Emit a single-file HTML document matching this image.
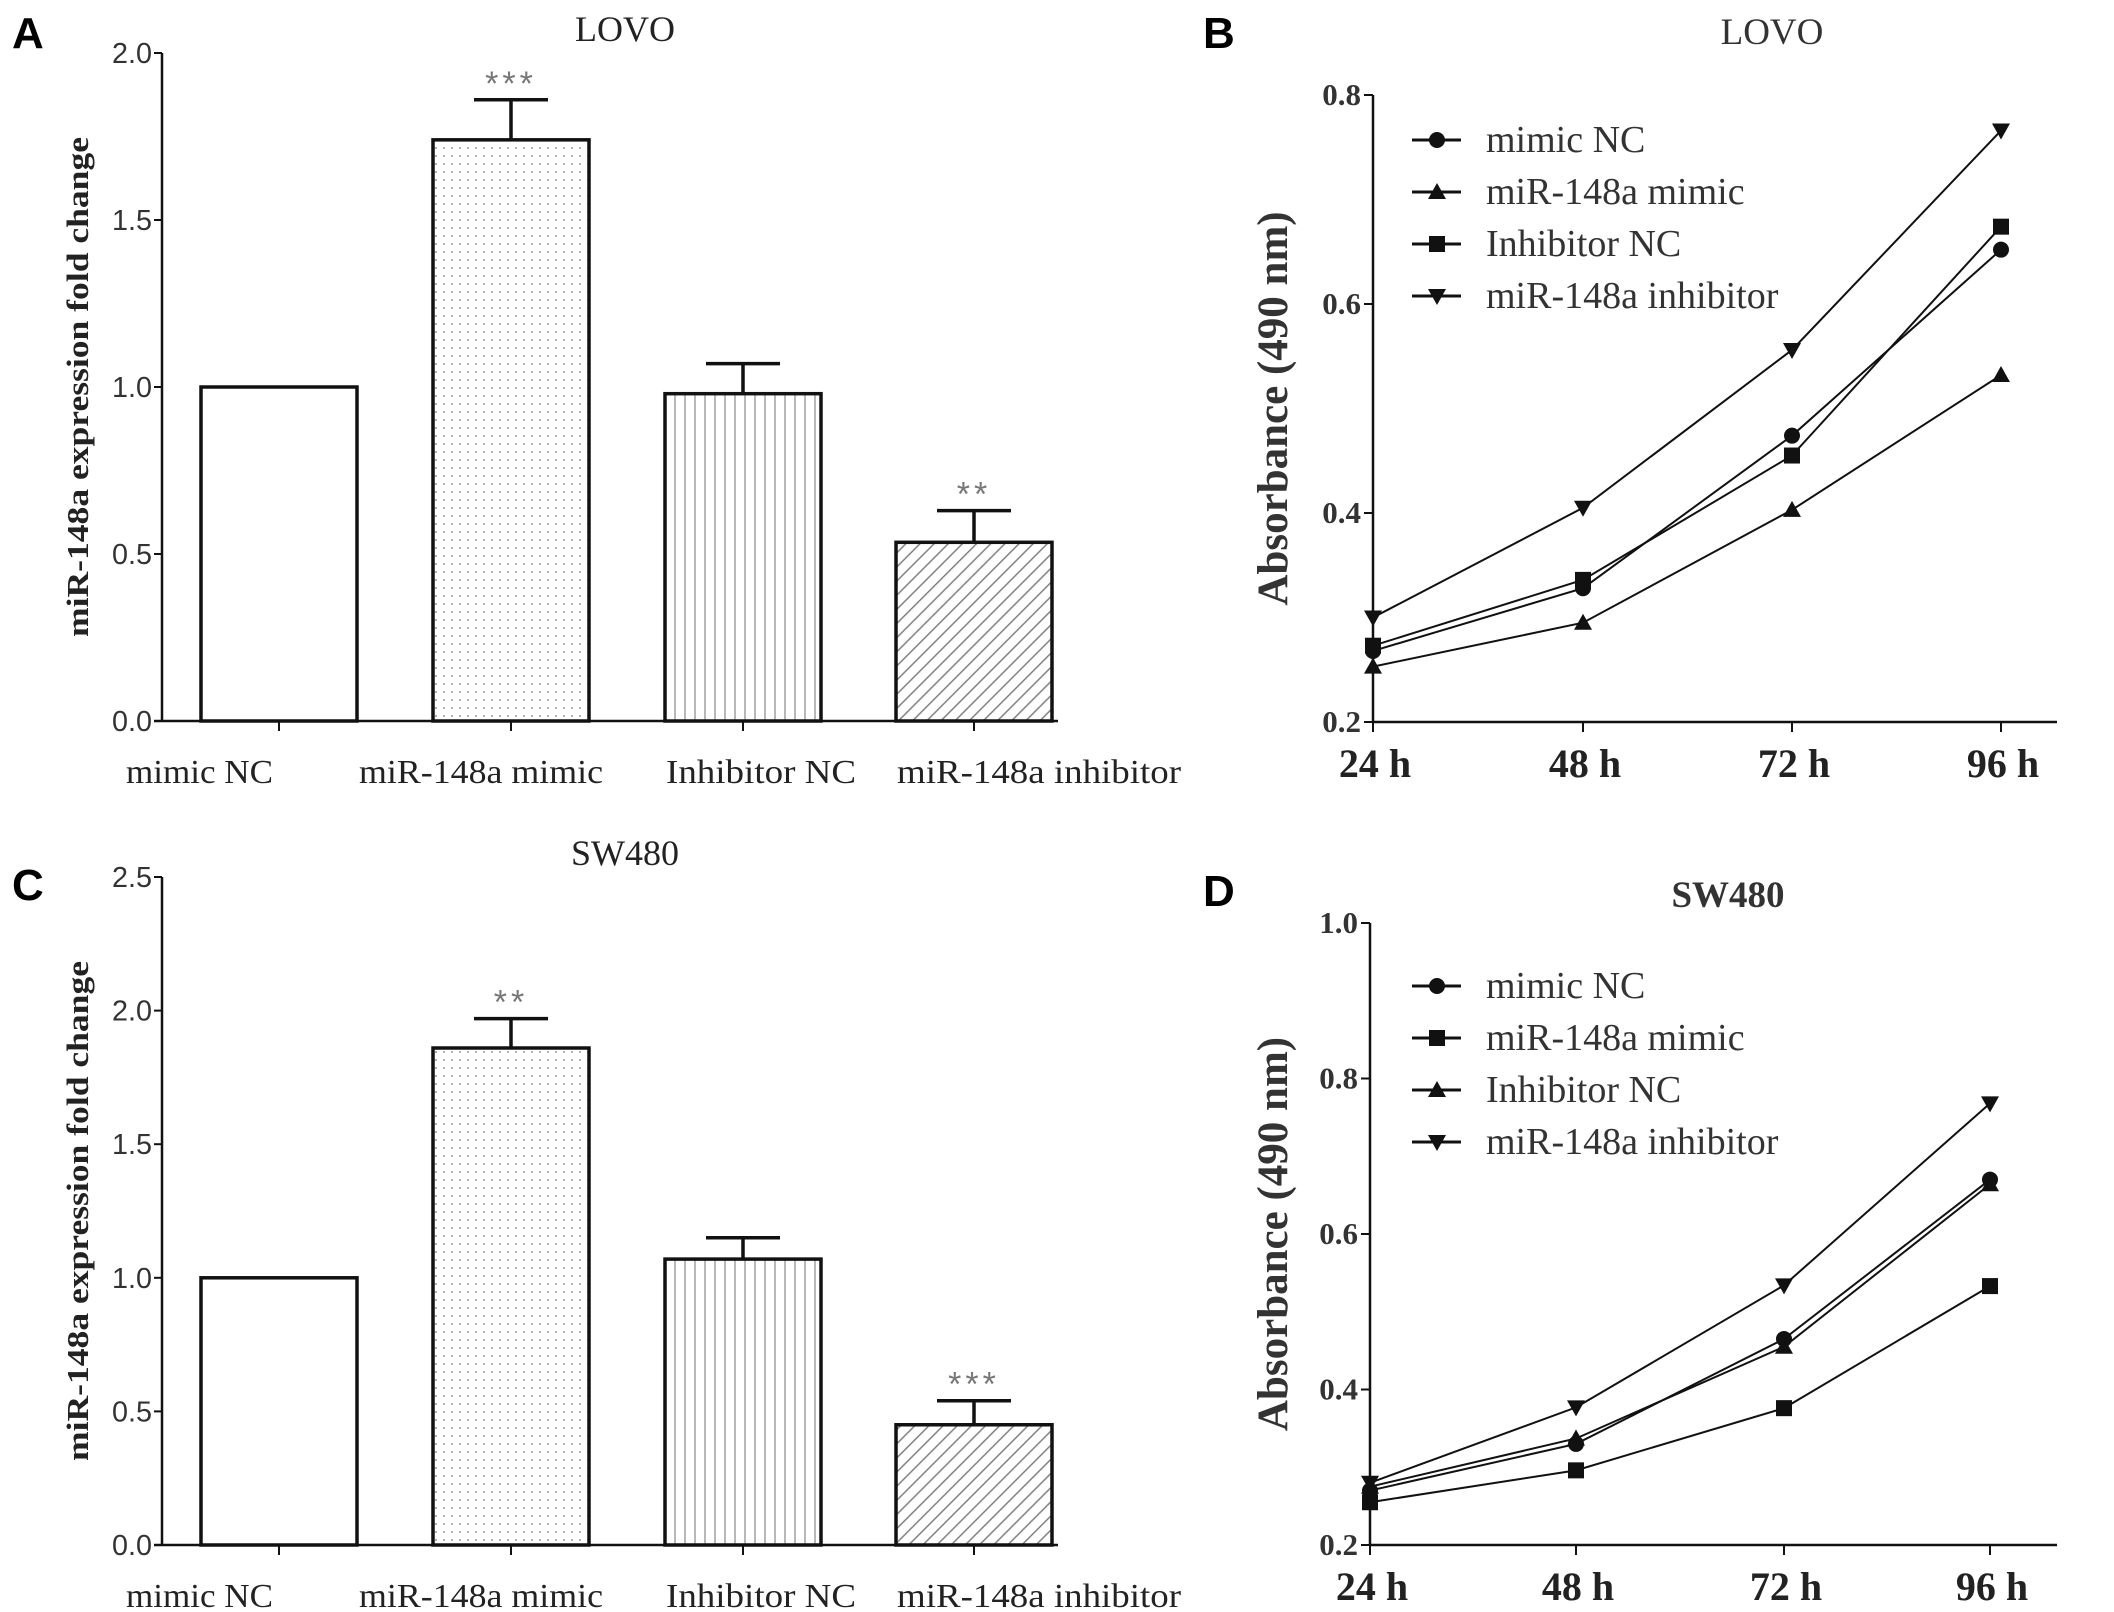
<!DOCTYPE html>
<html><head><meta charset="utf-8"><style>
html,body{margin:0;padding:0;background:#fff;}
svg{display:block;}
</style></head><body>
<svg id="fig" width="2114" height="1612" viewBox="0 0 2114 1612" xmlns="http://www.w3.org/2000/svg">
<defs>
<pattern id="dots" width="8" height="8" patternUnits="userSpaceOnUse"><rect width="8" height="8" fill="#fff"/><circle cx="4" cy="4" r="1" fill="#999"/></pattern>
<pattern id="vlines" width="10" height="10" patternUnits="userSpaceOnUse"><rect width="10" height="10" fill="#fff"/><line x1="5" y1="0" x2="5" y2="10" stroke="#888" stroke-width="1.2"/></pattern>
<pattern id="diag" width="10" height="10" patternUnits="userSpaceOnUse" patternTransform="rotate(45)"><rect width="10" height="10" fill="#fff"/><line x1="5" y1="0" x2="5" y2="10" stroke="#777" stroke-width="1.4"/></pattern>
</defs>
<g id="root"></g>
</svg>
<script>
const barCategories = ["mimic NC", "miR-148a mimic", "Inhibitor NC", "miR-148a inhibitor"];
const barValuesA = [1.0, 1.74, 0.98, 0.535];
const barErrorsA = [0, 0.12, 0.09, 0.095];
const barStarsA = ["", "***", "", "**"];
const barTicksA = [0.0, 0.5, 1.0, 1.5, 2.0];
const barValuesC = [1.0, 1.86, 1.07, 0.45];
const barErrorsC = [0, 0.11, 0.08, 0.09];
const barStarsC = ["", "**", "", "***"];
const barTicksC = [0.0, 0.5, 1.0, 1.5, 2.0, 2.5];

const timeLabels = ["24 h", "48 h", "72 h", "96 h"];
const seriesNamesB = ["mimic NC", "miR-148a mimic", "Inhibitor NC", "miR-148a inhibitor"];
const seriesMarkersB = ["circle", "triangle", "square", "downtri"];
const lineB_mimicNC = [0.268, 0.328, 0.474, 0.652];
const lineB_mimic = [0.253, 0.295, 0.403, 0.532];
const lineB_inhNC = [0.273, 0.336, 0.455, 0.674];
const lineB_inh = [0.300, 0.405, 0.556, 0.766];
const yTicksB = [0.2, 0.4, 0.6, 0.8];

const seriesNamesD = ["mimic NC", "miR-148a mimic", "Inhibitor NC", "miR-148a inhibitor"];
const seriesMarkersD = ["circle", "square", "triangle", "downtri"];
const lineD_mimicNC = [0.270, 0.330, 0.465, 0.670];
const lineD_mimic = [0.255, 0.296, 0.376, 0.533];
const lineD_inhNC = [0.275, 0.337, 0.455, 0.664];
const lineD_inh = [0.280, 0.377, 0.534, 0.768];
const yTicksD = [0.2, 0.4, 0.6, 0.8, 1.0];

const NS = "http://www.w3.org/2000/svg";
const root = document.getElementById("root");
function mk(tag, attrs, parent, text){
  const e = document.createElementNS(NS, tag);
  for (const k in attrs) e.setAttribute(k, attrs[k]);
  if (text !== undefined) e.textContent = text;
  (parent || root).appendChild(e);
  return e;
}

function panelLetter(letter, x, y){
  const t = mk("text", {x:x, y:y, "font-size":44, "font-family":"Liberation Sans, sans-serif", "font-weight":"bold"}, root, letter);
  
  
}

const catLabelStart = [126, 359, 666, 897];
const catLabelWidth = [147, 244, 190, 284];

function barPanel(id, top, bottom, ymax, ticks, vals, errs, stars, title){
  const g = mk("g", {});
  
  
  const ax = 162, axEnd = 1058;
  const y = v => bottom - (v / ymax) * (bottom - top);
  const centers = [279, 511, 743, 974];
  const bw = 156;
  const fills = ["#fff", "url(#dots)", "url(#vlines)", "url(#diag)"];
  const t = mk("text", {x:625, y:top-12, "font-size":36, "text-anchor":"middle", fill:"#222", "font-family":"Liberation Serif, serif"}, g, title);
  
  
  vals.forEach((v, i) => {
    const cx = centers[i];
    const b = mk("rect", {x:cx-bw/2, y:y(v), width:bw, height:bottom-y(v), fill:fills[i], stroke:"#111", "stroke-width":3.5}, g);
    
    
    if (errs[i] > 0){
      const ey = y(v + errs[i]);
      const e1 = mk("line", {x1:cx, y1:y(v), x2:cx, y2:ey, stroke:"#111", "stroke-width":3.5}, g);
      
      
      const e2 = mk("line", {x1:cx-37, y1:ey, x2:cx+37, y2:ey, stroke:"#111", "stroke-width":3.5}, g);
      
      
      if (stars[i]){
        const s = mk("text", {x:cx, y:ey-5, "font-size":34, "text-anchor":"middle", fill:"#777", "font-family":"Liberation Sans, sans-serif", "letter-spacing":"4"}, g, stars[i]);
        
        
      }
    }
    const tk = mk("line", {x1:cx, y1:bottom, x2:cx, y2:bottom+10, stroke:"#111", "stroke-width":2}, g);
    
    
    const lb = mk("text", {x:catLabelStart[i], y:bottom+62, "font-size":34, fill:"#222", textLength:catLabelWidth[i], lengthAdjust:"spacingAndGlyphs", "font-family":"Liberation Serif, serif"}, g, barCategories[i]);
    
    
  });
  const yl = mk("line", {x1:ax, y1:top, x2:ax, y2:bottom, stroke:"#111", "stroke-width":2.5}, g);
  
  
  const xl = mk("line", {x1:ax-8, y1:bottom, x2:axEnd, y2:bottom, stroke:"#111", "stroke-width":2.5}, g);
  
  
  ticks.forEach(v => {
    const tl = mk("line", {x1:ax-8, y1:y(v), x2:ax, y2:y(v), stroke:"#111", "stroke-width":2}, g);
    
    
    const tt = mk("text", {x:ax-10, y:y(v)+10, "font-size":29, "text-anchor":"end", fill:"#333", "font-family":"Liberation Sans, sans-serif", "textLength":40, "lengthAdjust":"spacingAndGlyphs"}, g, v.toFixed(1));
    
    
  });
  const mid = (top + bottom) / 2;
  const yt = mk("text", {x:0, y:0, transform:`translate(88 ${mid}) rotate(-90)`, "font-size":31, "font-weight":"bold", "text-anchor":"middle", fill:"#222", textLength:500, lengthAdjust:"spacingAndGlyphs", "font-family":"Liberation Serif, serif"}, g, "miR-148a expression fold change");
  
  
}

function marker(g, type, x, y){
  let m;
  if (type === "circle") m = mk("circle", {cx:x, cy:y, r:8, fill:"#111"}, g);
  else if (type === "square") m = mk("rect", {x:x-8, y:y-8, width:16, height:16, fill:"#111"}, g);
  else if (type === "triangle") m = mk("polygon", {points:`${x},${y-9} ${x+9},${y+7} ${x-9},${y+7}`, fill:"#111"}, g);
  else m = mk("polygon", {points:`${x},${y+9} ${x+9},${y-7} ${x-9},${y-7}`, fill:"#111"}, g);
  return m;
}

function linePanel(id, top, bottom, ymin, ymax, ticks, xs, series, names, markers, legendY, title, titleX, titleY, titleBold){
  const g = mk("g", {});
  
  
  const ax = xs[0], axEnd = 2057;
  const y = v => bottom - (v - ymin) / (ymax - ymin) * (bottom - top);
  const t = mk("text", {x:titleX, y:titleY, "font-size":37, "font-weight":titleBold ? "bold" : "normal", "text-anchor":"middle", fill:"#333", "font-family":"Liberation Serif, serif"}, g, title);
  
  
  const yl = mk("line", {x1:ax, y1:top, x2:ax, y2:bottom, stroke:"#111", "stroke-width":2.5}, g);
  
  
  const xl = mk("line", {x1:ax, y1:bottom, x2:axEnd, y2:bottom, stroke:"#111", "stroke-width":2.5}, g);
  
  
  ticks.forEach(v => {
    const tl = mk("line", {x1:ax-9, y1:y(v), x2:ax, y2:y(v), stroke:"#111", "stroke-width":2}, g);
    
    
    const tt = mk("text", {x:ax-12, y:y(v)+10, "font-size":31, "font-weight":"bold", "text-anchor":"end", fill:"#333", "font-family":"Liberation Serif, serif"}, g, v.toFixed(1));
    
    
  });
  xs.forEach((x, i) => {
    const tl = mk("line", {x1:x, y1:bottom, x2:x, y2:bottom+10, stroke:"#111", "stroke-width":2}, g);
    
    
    const tt = mk("text", {x:x+2, y:bottom+55, "font-size":40, "font-weight":"bold", "text-anchor":"middle", fill:"#222", "font-family":"Liberation Serif, serif"}, g, timeLabels[i]);
    
    
  });
  const mid = (top + bottom) / 2;
  const yt = mk("text", {x:0, y:0, transform:`translate(1287 ${mid}) rotate(-90)`, "font-size":43, "font-weight":"bold", "text-anchor":"middle", fill:"#333", "font-family":"Liberation Serif, serif"}, g, "Absorbance (490 nm)");
  
  
  series.forEach((vals, s) => {
    const pts = vals.map((v, i) => `${xs[i]},${y(v)}`).join(" ");
    const pl = mk("polyline", {points:pts, fill:"none", stroke:"#111", "stroke-width":2}, g);
    
    
    vals.forEach((v, i) => {
      const m = marker(g, markers[s], xs[i], y(v));
      
      
    });
    const ly = legendY + s * 52;
    const lg = mk("g", {}, g);
    
    
    mk("line", {x1:1412, y1:ly, x2:1461, y2:ly, stroke:"#111", "stroke-width":3}, lg);
    marker(lg, markers[s], 1437, ly);
    mk("text", {x:1486, y:ly+12, "font-size":38, fill:"#333", "font-family":"Liberation Serif, serif"}, lg, names[s]);
  });
}

panelLetter("A", 12, 48);
panelLetter("B", 1203, 48);
panelLetter("C", 12, 900);
panelLetter("D", 1203, 906);
barPanel("a", 53, 721, 2.0, barTicksA, barValuesA, barErrorsA, barStarsA, "LOVO");
barPanel("c", 877, 1545, 2.5, barTicksC, barValuesC, barErrorsC, barStarsC, "SW480");
linePanel("b", 95, 722, 0.2, 0.8, yTicksB, [1373,1583,1792,2001], [lineB_mimicNC, lineB_mimic, lineB_inhNC, lineB_inh], seriesNamesB, seriesMarkersB, 140, "LOVO", 1772, 44, false);
linePanel("d", 923, 1545, 0.2, 1.0, yTicksD, [1370,1576,1784,1990], [lineD_mimicNC, lineD_mimic, lineD_inhNC, lineD_inh], seriesNamesD, seriesMarkersD, 986, "SW480", 1728, 907, true);
</script>
</body></html>
